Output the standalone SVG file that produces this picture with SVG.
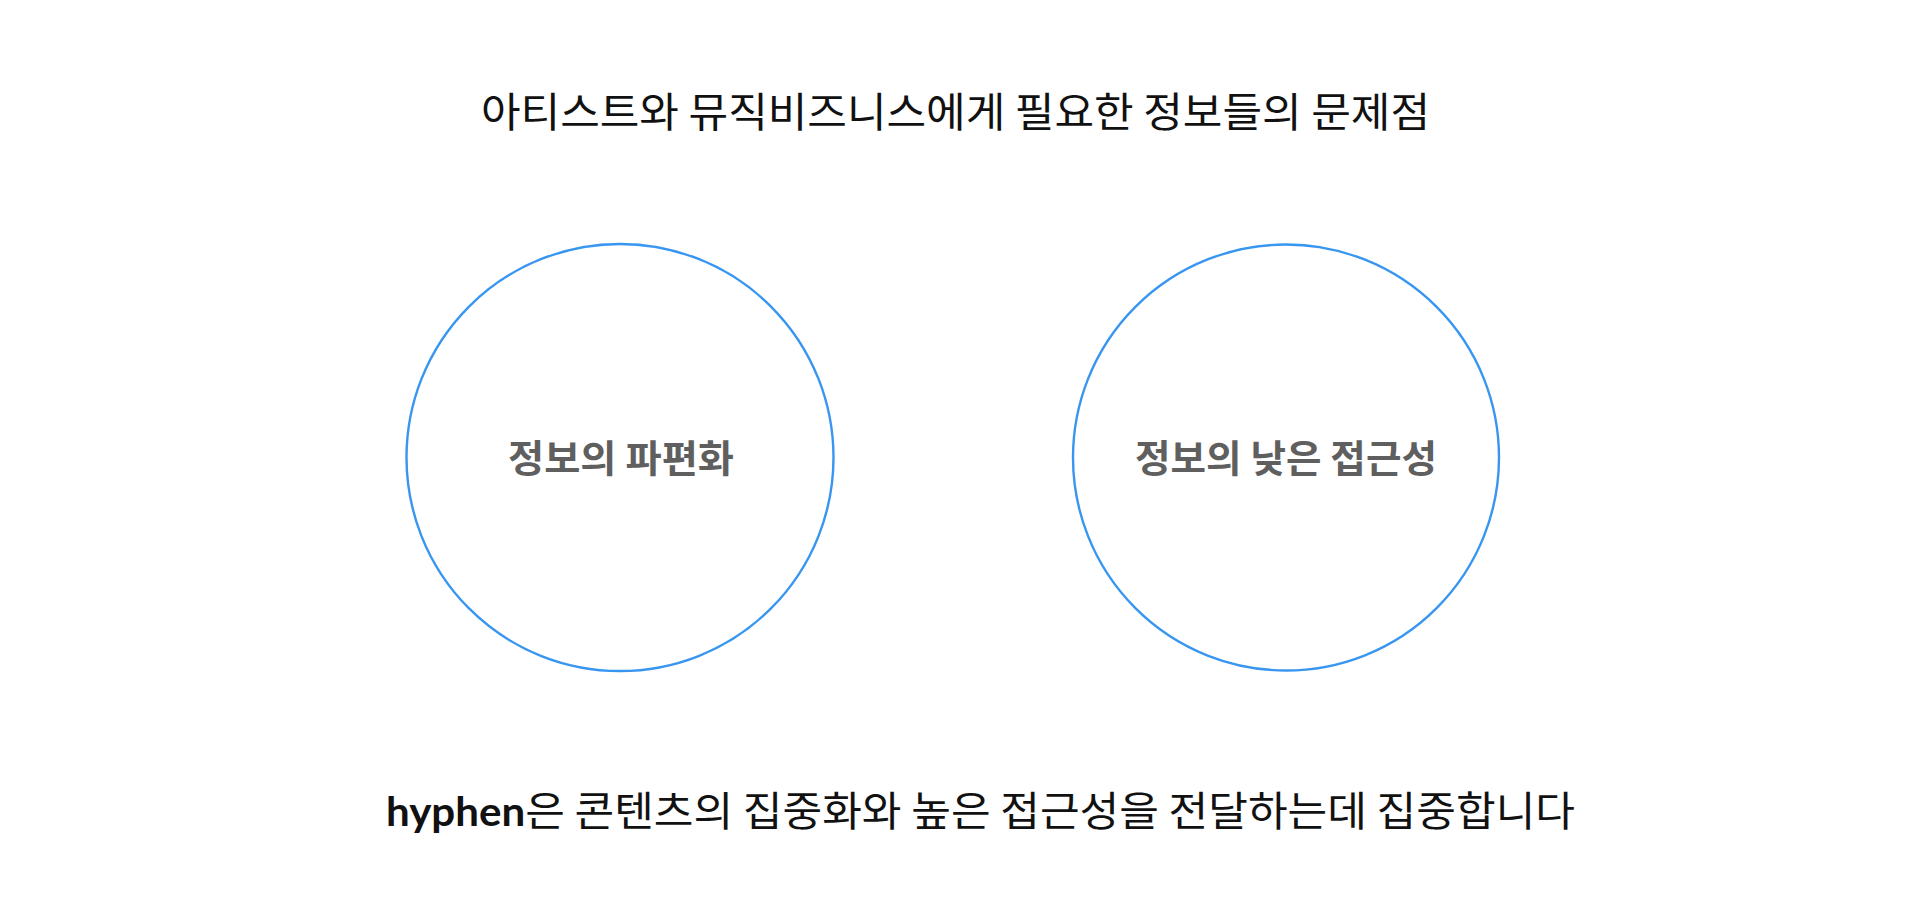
<svg xmlns="http://www.w3.org/2000/svg" width="1919" height="919" viewBox="0 0 1919 919">
<style>
.ko{font-family:"Noto Sans CJK KR","Noto Sans",sans-serif;fill:#111111;font-size:41px;}
.lbl{font-family:"Noto Sans CJK KR","Noto Sans",sans-serif;fill:#5f5f5f;font-size:38px;font-weight:700;}
.circ{fill:none;stroke:#3896f0;stroke-width:2.4;}
.brand{font-family:Lato,"Open Sans",sans-serif;font-weight:700;fill:#111111;font-size:40px;}
</style>
<rect width="1919" height="919" fill="#ffffff"/>
<text id="title" class="ko" x="481" y="127" textLength="949" lengthAdjust="spacingAndGlyphs">아티스트와 뮤직비즈니스에게 필요한 정보들의 문제점</text>
<g id="node-fragmentation">
<circle class="circ" cx="620" cy="457.5" r="213.5"/>
<text class="lbl" x="621" y="472" text-anchor="middle" textLength="226" lengthAdjust="spacingAndGlyphs">정보의 파편화</text>
</g>
<g id="node-accessibility">
<circle class="circ" cx="1286" cy="457.5" r="213"/>
<text class="lbl" x="1286" y="472" text-anchor="middle" textLength="302" lengthAdjust="spacingAndGlyphs">정보의 낮은 접근성</text>
</g>
<g id="connectors"></g>
<g id="footer">
<text class="ko" x="386" y="826" textLength="1189" lengthAdjust="spacingAndGlyphs"><tspan class="brand">hyphen</tspan>은 콘텐츠의 집중화와 높은 접근성을 전달하는데 집중합니다</text>
</g>
</svg>
